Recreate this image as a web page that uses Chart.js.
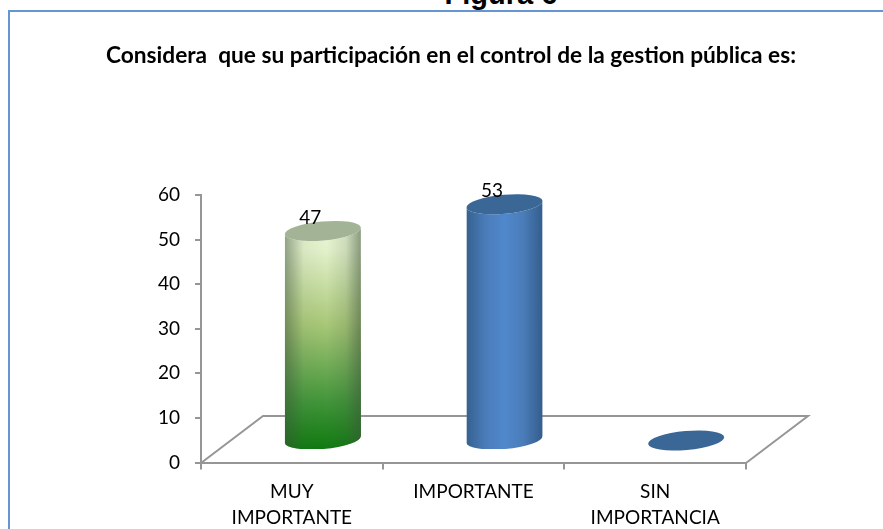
<!DOCTYPE html>
<html>
<head>
<meta charset="utf-8">
<style>
    html, body { margin: 0; padding: 0; background: #fff; overflow: hidden; }
    #wrap { position: relative; width: 883px; height: 529px; overflow: hidden; }
    #figura { position: absolute; left: 0; width: 883px; top: -22px; text-align: center; padding-left: 119px; box-sizing: border-box;
              font: bold 29px "Liberation Sans", sans-serif; color: #000; }
    #frame { position: absolute; left: 8px; top: 10px; width: 900px; height: 600px; border: 2px solid #6596d2; box-sizing: border-box; }
    canvas { position: absolute; left: 0; top: 0; }
</style>
</head>
<body>
<div id="wrap">
    <div id="figura">Figura 6</div>
    <div id="frame"></div>
    <canvas id="chart" width="883" height="529"></canvas>
</div>
<script src="https://cdn.jsdelivr.net/npm/chart.js@4"></script>
<script>
const chartTitle = "Considera  que su participación en el control de la gestion pública es:";
const categories = [["MUY", "IMPORTANTE"], "IMPORTANTE", ["SIN", "IMPORTANCIA"]];
const values = [47, 53, 0];
const yTicks = [0, 10, 20, 30, 40, 50, 60];

// the plot is a fake 3D box: floor pushed back by this much from the front edge
const depthX = 62;
const depthY = 47;
const fontName = 'Lato, "Open Sans", sans-serif';

function cylinderFill(ctx, index, left, right, top, bottom) {
    const h = ctx.createLinearGradient(left, 0, right, 0);
    if (index === 0) {
        // green one fades from pale at the top to dark green at the foot
        const v = ctx.createLinearGradient(0, top, 0, bottom);
        v.addColorStop(0, "#e8f5d3");
        v.addColorStop(0.12, "#e4f2cc");
        v.addColorStop(0.45, "#a9c878");
        v.addColorStop(0.8, "#3f9438");
        v.addColorStop(1, "#107a10");
        ctx.fillStyle = v;
        ctx.fillRect(left, top, right - left, bottom - top);
        h.addColorStop(0, "rgba(60,80,60,0.5)");
        h.addColorStop(0.25, "rgba(60,80,60,0.06)");
        h.addColorStop(0.55, "rgba(60,80,60,0)");
        h.addColorStop(0.8, "rgba(60,80,60,0.14)");
        h.addColorStop(1, "rgba(60,80,60,0.55)");
    } else {
        h.addColorStop(0, "#36618f");
        h.addColorStop(0.25, "#4a7cb9");
        h.addColorStop(0.5, "#5088cc");
        h.addColorStop(0.75, "#4a7cb8");
        h.addColorStop(1, "#345d8c");
    }
    ctx.fillStyle = h;
    ctx.fillRect(left, top, right - left, bottom - top);
}

// draws floor, cylinders and value labels from the scales and the bar elements
const cylinders = {
    id: "cylinders",
    afterLayout(chart) {
        // title is centred on the frame, not on the plot
        chart.titleBlock.left = 19;
        chart.titleBlock.right = 883;
    },
    beforeDatasetsDraw(chart) {
        const { ctx, scales: { x, y } } = chart;
        const y0 = y.getPixelForValue(0) + 0.5;
        ctx.save();
        ctx.strokeStyle = "#969696";
        ctx.lineWidth = 2;
        ctx.beginPath();
        ctx.moveTo(x.left, y0);
        ctx.lineTo(x.left + depthX, y0 - depthY);
        ctx.lineTo(x.right + depthX, y0 - depthY);
        ctx.lineTo(x.right, y0);
        ctx.stroke();
        ctx.restore();
    },
    afterDatasetsDraw(chart) {
        const { ctx } = chart;
        const meta = chart.getDatasetMeta(0);
        meta.data.forEach(function(bar, i) {
            const cx = bar.x + 31;
            const rx = bar.width / 2;
            const ry = 9.5;
            const tilt = -0.09;
            const top = bar.y - 22;
            const bottom = bar.base - 22;
            const value = values[i];

            ctx.save();
            if (value > 0) {
                ctx.save();
                ctx.beginPath();
                ctx.ellipse(cx, top, rx, ry, tilt, Math.PI, 0, true);
                ctx.lineTo(cx + rx, bottom - 3);
                ctx.ellipse(cx, bottom, rx, ry, tilt, 0, Math.PI);
                ctx.closePath();
                ctx.clip();
                cylinderFill(ctx, i, cx - rx, cx + rx, top - ry, bottom + ry);
                ctx.restore();
            }
            ctx.fillStyle = i === 0 ? "#a3b496" : "#3b6796";
            ctx.beginPath();
            ctx.ellipse(cx, top, rx, ry, tilt, 0, Math.PI * 2);
            ctx.fill();

            if (value > 0) {
                ctx.fillStyle = "#000";
                ctx.font = "19px " + fontName;
                ctx.textAlign = "center";
                ctx.textBaseline = "middle";
                ctx.fillText(String(value), cx - 12.5, top - 13);
            }
            ctx.restore();
        });
    }
};

new Chart(document.getElementById("chart"), {
    type: "bar",
    data: {
        labels: categories,
        datasets: [{
            data: values,
            backgroundColor: "transparent",
            borderWidth: 0,
            categoryPercentage: 1,
            barPercentage: 0.42
        }]
    },
    options: {
        responsive: false,
        animation: false,
        layout: { padding: { left: 0, right: 137, top: 0, bottom: 0 } },
        plugins: {
            legend: { display: false },
            tooltip: { enabled: false },
            title: {
                display: true,
                text: chartTitle,
                color: "#000",
                font: { family: fontName, size: 22.7, weight: "bold" },
                padding: { top: 42.5, bottom: 125.3 },
                fullSize: true
            }
        },
        scales: {
            x: {
                grid: { drawOnChartArea: false, color: "#969696", lineWidth: 2, tickLength: 7 },
                border: { color: "#969696", width: 2 },
                ticks: {
                    color: "#000",
                    font: { family: fontName, size: 19, lineHeight: 1.37 },
                    maxRotation: 0,
                    padding: 9
                },
                afterFit(scale) { scale.height = 66.5; }
            },
            y: {
                min: 0,
                max: 60,
                afterBuildTicks(scale) { scale.ticks = yTicks.map(function(v) { return { value: v }; }); },
                grid: { drawOnChartArea: false, color: "#969696", lineWidth: 2, tickLength: 6 },
                border: { color: "#969696", width: 2 },
                ticks: {
                    color: "#000",
                    font: { family: fontName, size: 19 },
                    padding: 15
                },
                afterFit(scale) { scale.width = 201; }
            }
        }
    },
    plugins: [cylinders]
});
</script>
</body>
</html>
